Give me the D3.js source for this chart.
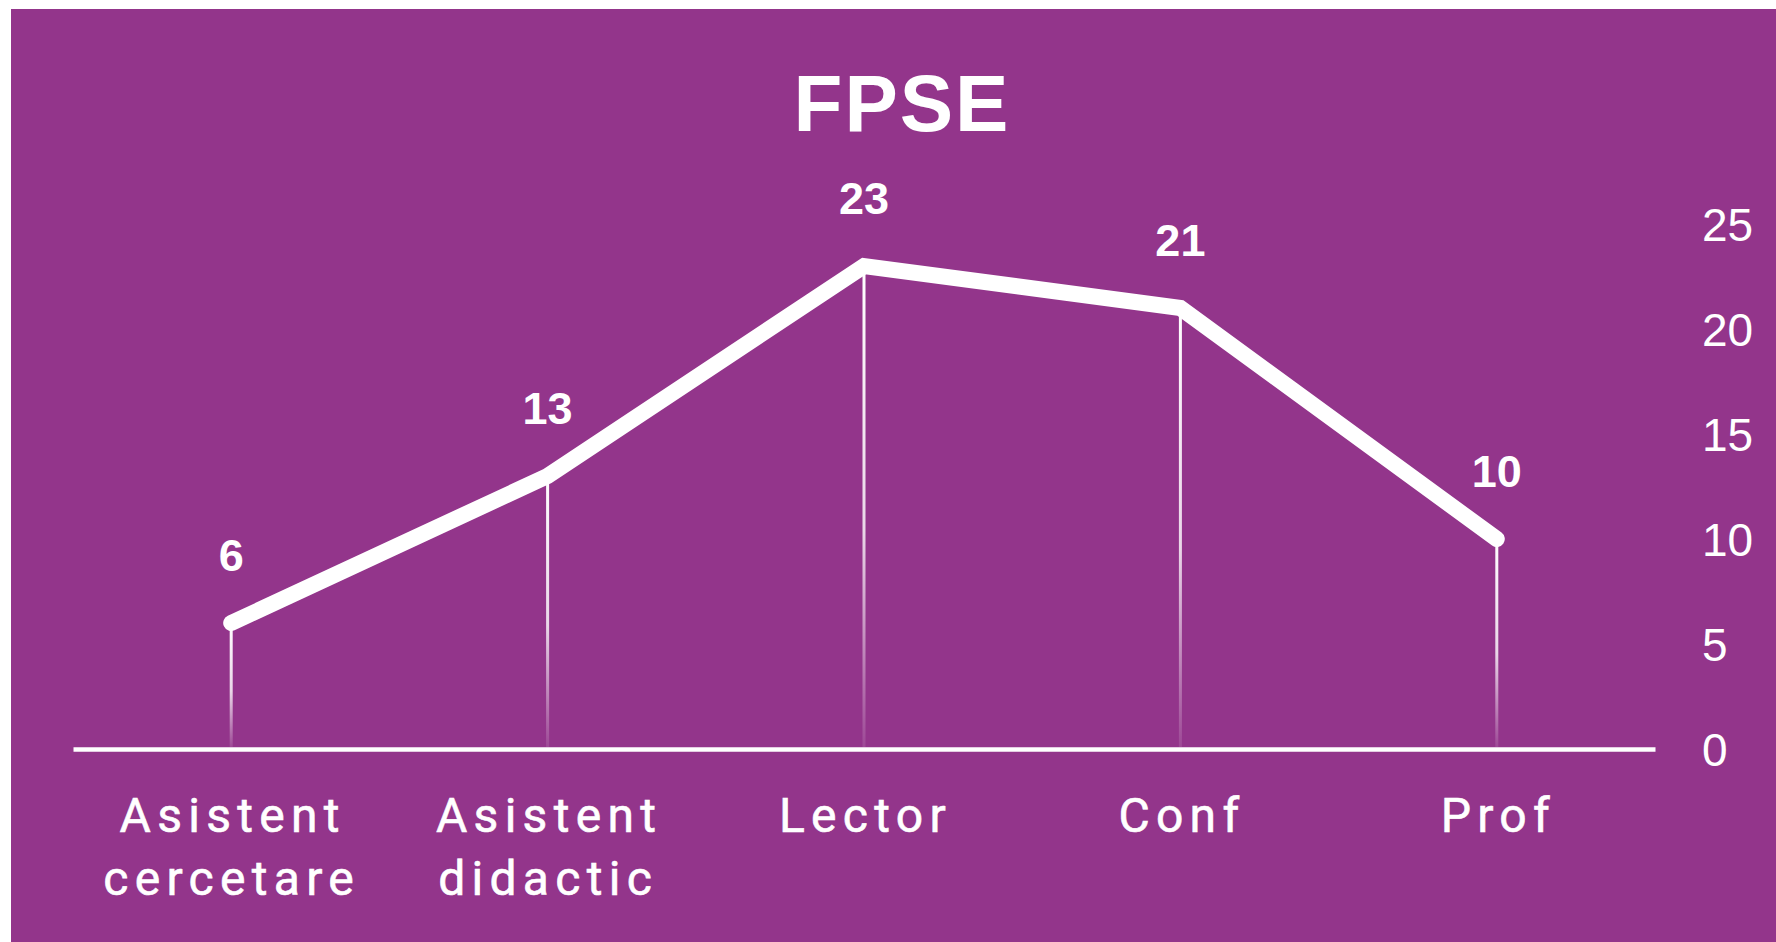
<!DOCTYPE html>
<html>
<head>
<meta charset="utf-8">
<script src="https://cdn.jsdelivr.net/npm/d3@7"></script>
<style>
  body { margin: 0; background: #fff; }
  text { fill: #fff; }
</style>
</head>
<body>
<div id="chart"></div>
<script>
const title = "FPSE"
const categories = ["Asistent cercetare", "Asistent didactic", "Lector", "Conf", "Prof"]
const labelLines = [["Asistent", "cercetare"], ["Asistent", "didactic"], ["Lector"], ["Conf"], ["Prof"]]
const values = [6, 13, 23, 21, 10]
const yTicks = [0, 5, 10, 15, 20, 25]

let width = 1776
let height = 942
let purple = "#93358b"
let helv = "'Liberation Sans', Arial, sans-serif"
let roboto = "Roboto, 'Liberation Sans', sans-serif"

let svg = d3.select("#chart").append("svg")
  .attr("width", width)
  .attr("height", height)

svg.append("rect")
  .attr("x", 11).attr("y", 9)
  .attr("width", width - 11).attr("height", height - 9)
  .attr("fill", purple)

let x = d3.scalePoint()
  .domain(categories)
  .range([73, 1655])
  .padding(0.5)
let y = d3.scaleLinear()
  .domain([0, 25])
  .range([749, 224])

// fading gradient for the drop lines
let grad = svg.append("defs").append("linearGradient")
  .attr("id", "drop")
  .attr("x1", 0).attr("y1", 0).attr("x2", 0).attr("y2", 1)
grad.append("stop").attr("offset", 0).attr("stop-color", "#fff").attr("stop-opacity", 1)
grad.append("stop").attr("offset", 0.55).attr("stop-color", "#fff").attr("stop-opacity", 0.8)
grad.append("stop").attr("offset", 1).attr("stop-color", "#fff").attr("stop-opacity", 0.1)

svg.append("text")
  .attr("x", 902).attr("y", 131)
  .attr("text-anchor", "middle")
  .style("font-family", helv)
  .style("font-size", "80px")
  .style("font-weight", 700)
  .style("letter-spacing", "2px")
  .text(title)

// x axis: baseline + two-line labels
let xAxis = svg.append("g")
  .attr("transform", `translate(0,${y(0)})`)
  .call(d3.axisBottom(x).tickSize(0).tickSizeOuter(0).tickPadding(0))
xAxis.select(".domain").attr("stroke", "#fff").attr("stroke-width", 4.5)
xAxis.selectAll(".tick text").remove()
xAxis.selectAll(".tick").each(function(d, i) {
  let t = d3.select(this).append("text")
    .attr("text-anchor", "middle")
    .attr("dx", 1)
    .style("font-family", roboto)
    .style("font-size", "48px")
    .style("letter-spacing", "6.3px")
    .style("stroke", "#fff")
    .style("stroke-width", 0.6)
  labelLines[i].forEach((line, j) => {
    t.append("tspan").attr("x", 0).attr("y", 83 + j * 63).text(line)
  })
})

// y axis on the right, labels only
let yAxis = svg.append("g")
  .attr("transform", "translate(1702,0)")
  .call(d3.axisRight(y).tickValues(yTicks).tickSize(0).tickPadding(0))
yAxis.select(".domain").remove()
yAxis.selectAll(".tick text")
  .attr("dy", "0.36em")
  .style("font-family", helv)
  .style("font-size", "46px")

let pts = categories.map((c, i) => ({ c: c, v: values[i] }))

svg.selectAll("rect.drop")
  .data(pts)
  .enter().append("rect")
    .attr("class", "drop")
    .attr("x", d => x(d.c) - 1.5)
    .attr("y", d => y(d.v))
    .attr("width", 3)
    .attr("height", d => y(0) - y(d.v) - 2)
    .attr("fill", "url(#drop)")

let line = d3.line()
  .x(d => x(d.c))
  .y(d => y(d.v))

svg.append("path")
  .datum(pts)
  .attr("d", line)
  .attr("fill", "none")
  .attr("stroke", "#fff")
  .attr("stroke-width", 16)
  .attr("stroke-linecap", "round")
  .attr("stroke-linejoin", "miter")

svg.selectAll("text.val")
  .data(pts)
  .enter().append("text")
    .attr("class", "val")
    .attr("x", d => x(d.c))
    .attr("y", d => y(d.v) - 52)
    .attr("text-anchor", "middle")
    .style("font-family", helv)
    .style("font-size", "45px")
    .style("font-weight", 700)
    .text(d => d.v)
</script>
</body>
</html>
